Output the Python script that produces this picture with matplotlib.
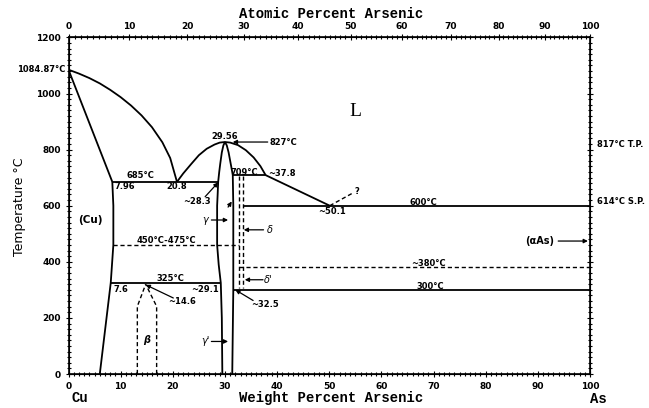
import numpy as np
import matplotlib
matplotlib.use("Agg")
import matplotlib.pyplot as plt
from matplotlib.ticker import FixedLocator, MultipleLocator

# ---------------- data (wt% As, temperature degC) ----------------
liq_cu_x = [0, 2, 4, 6, 8, 10, 12, 14, 16, 18, 19.5, 20.8]
liq_cu_t = [1084.87, 1071, 1055, 1036, 1013, 987, 957, 922, 880, 826, 770, 685]

dome_x = [20.8, 22, 23.5, 25, 26.5, 28, 29, 30.0, 31, 32.5, 34, 35.5, 36.8, 37.8]
dome_t = [685, 715, 748, 780, 803, 818, 825, 827, 825, 816, 798, 772, 741, 709]

liq_as_x = [37.8, 50.1]
liq_as_t = [709, 600]

solidus_cu_x = [0, 8.4]
solidus_cu_t = [1084.87, 685]

cu_solvus_x = [8.4, 8.6, 8.6, 8.1, 6.0]
cu_solvus_t = [685, 600, 460, 325, 0]

gam_left_x = [30.0, 29.7, 29.4, 29.1, 28.9, 28.7, 28.6, 28.5, 28.5, 28.8, 29.2, 29.4, 29.5]
gam_left_t = [827, 815, 790, 750, 720, 685, 640, 600, 460, 390, 325, 200, 0]

gam_right_x = [30.0, 30.35, 30.7, 31.1, 31.4, 31.5, 31.6, 31.6, 31.4]
gam_right_t = [827, 815, 790, 750, 720, 709, 600, 300, 0]

# invariant lines: (x_start, x_end, temperature)
solid_iso = [(8.4, 28.7, 685), (31.5, 37.8, 709), (33.4, 100, 600),
             (8.1, 29.2, 325), (31.6, 100, 300)]
dashed_iso = [(8.6, 32.6, 460), (32.6, 100, 380)]

delta_x = [32.6, 33.4]
delta_t = [705, 308]

beta_left_x = [13.2, 13.2, 14.8]
beta_left_t = [0, 241, 320]
beta_right_x = [16.9, 16.9, 14.8]
beta_right_t = [0, 241, 320]

unk_x = [50.1, 54.5]
unk_t = [600, 645]

x_ticks = [0, 10, 20, 30, 40, 50, 60, 70, 80, 90, 100]
y_ticks = [0, 200, 400, 600, 800, 1000, 1200]
at_ticks = [0, 10, 20, 30, 40, 50, 60, 70, 80, 90, 100]

M_CU, M_AS = 63.546, 74.92


def at_to_wt(a):
    a = np.asarray(a, dtype=float)
    return 100 * a * M_AS / (a * M_AS + (100 - a) * M_CU)


# ---------------- figure ----------------
fig = plt.figure(figsize=(6.49, 4.08), dpi=100)
ax = fig.add_axes([68.5 / 649, 34 / 408, (590 - 68.5) / 649, (374.3 - 37.7) / 408])
ax.set_xlim(0, 100)
ax.set_ylim(0, 1200)

k = dict(color="black", lw=1.3, solid_capstyle="butt", solid_joinstyle="round")
ax.plot(liq_cu_x, liq_cu_t, **k)
ax.plot(dome_x, dome_t, **k)
ax.plot(liq_as_x, liq_as_t, **k)
ax.plot(solidus_cu_x, solidus_cu_t, **k)
ax.plot(cu_solvus_x, cu_solvus_t, **k)
ax.plot(gam_left_x, gam_left_t, **k)
ax.plot(gam_right_x, gam_right_t, **k)
for x0, x1, t in solid_iso:
    ax.plot([x0, x1], [t, t], **k)
dk = dict(color="black", lw=1.0, ls=(0, (3, 2)))
for x0, x1, t in dashed_iso:
    ax.plot([x0, x1], [t, t], **dk)
for dx in delta_x:
    ax.plot([dx, dx], delta_t, **dk)
ax.plot(beta_left_x, beta_left_t, **dk)
ax.plot(beta_right_x, beta_right_t, **dk)
ax.plot(unk_x, unk_t, **dk)

# ---------------- axes styling ----------------
for s in ax.spines.values():
    s.set_linewidth(1.2)
ax.xaxis.set_major_locator(FixedLocator(x_ticks))
ax.xaxis.set_minor_locator(MultipleLocator(1))
ax.yaxis.set_major_locator(FixedLocator(y_ticks))
ax.yaxis.set_minor_locator(MultipleLocator(20))
ax.tick_params(which="both", direction="inout", right=True, top=False,
               labelsize=6.5, width=0.8)
ax.tick_params(which="major", length=5, pad=3)
ax.tick_params(which="minor", length=2.5)
for lab in ax.get_xticklabels() + ax.get_yticklabels():
    lab.set_fontweight("bold")

top = ax.twiny()
top.set_xlim(0, 100)
top.xaxis.set_major_locator(FixedLocator(at_to_wt(at_ticks)))
top.xaxis.set_minor_locator(FixedLocator(at_to_wt(np.arange(0, 101, 1))))
top.set_xticklabels([str(v) for v in at_ticks])
top.tick_params(which="both", direction="inout", labelsize=6.5, width=0.8)
top.tick_params(which="major", length=5, pad=2)
top.tick_params(which="minor", length=2.5)
for lab in top.get_xticklabels():
    lab.set_fontweight("bold")

mono = "Liberation Mono"
fig.text(331 / 649, 1 - 14 / 408, "Atomic Percent Arsenic", family=mono,
         fontsize=10, fontweight="bold", ha="center", va="center")
fig.text(331 / 649, 1 - 398 / 408, "Weight Percent Arsenic", family=mono,
         fontsize=10, fontweight="bold", ha="center", va="center")
fig.text(80 / 649, 1 - 398 / 408, "Cu", family=mono, fontsize=10,
         fontweight="bold", ha="center", va="center")
fig.text(598 / 649, 1 - 399 / 408, "As", family=mono, fontsize=10,
         fontweight="bold", ha="center", va="center")
fig.text(20 / 649, 1 - 207 / 408, "Temperature °C", fontsize=9,
         rotation=90, ha="center", va="center")

# ---------------- annotations ----------------
fs = 6
tb = dict(fontsize=fs, fontweight="bold", color="black")
ax.text(-0.6, 1084.87, "1084.87°C", ha="right", va="center", clip_on=False, **tb)
ax.text(101.3, 817, "817°C T.P.", ha="left", va="center", clip_on=False, **tb)
ax.text(101.3, 614, "614°C S.P.", ha="left", va="center", clip_on=False, **tb)

ax.text(55, 935, "L", family="Liberation Serif", fontsize=14, ha="center", va="center")
ax.text(30.0, 832, "29.56", ha="center", va="bottom", **tb)
ax.text(38.6, 825, "827°C", ha="left", va="center", **tb)
ax.text(13.7, 690, "685°C", ha="center", va="bottom", **tb)
ax.text(8.9, 668, "7.96", ha="left", va="center", **tb)
ax.text(20.7, 668, "20.8", ha="center", va="center", **tb)
ax.text(24.6, 615, "~28.3", ha="center", va="center", **tb)
ax.text(33.8, 719, "709°C", ha="center", va="center", **tb)
ax.text(38.3, 716, "~37.8", ha="left", va="center", **tb)
ax.text(50.5, 578, "~50.1", ha="center", va="center", **tb)
ax.text(55.3, 650, "?", ha="center", va="center", **tb)
ax.text(68.0, 612, "600°C", ha="center", va="center", **tb)
ax.text(4.1, 549, "(Cu)", ha="center", va="center", fontsize=7.5, fontweight="bold")
ax.text(26.2, 549, "γ", ha="center", va="center", fontsize=7, style="italic")
ax.text(38.6, 514, "δ", ha="center", va="center", fontsize=7, style="italic")
ax.text(38.2, 336, "δ'", ha="center", va="center", fontsize=7, style="italic")
ax.text(26.2, 116, "γ'", ha="center", va="center", fontsize=7, style="italic")
ax.text(15.0, 122, "β", ha="center", va="center", fontsize=7, style="italic",
        fontweight="bold")
ax.text(18.8, 476, "450°C-475°C", ha="center", va="center", **tb)
ax.text(19.5, 340, "325°C", ha="center", va="center", **tb)
ax.text(8.6, 303, "7.6", ha="left", va="center", **tb)
ax.text(28.9, 303, "~29.1", ha="right", va="center", **tb)
ax.text(21.7, 259, "~14.6", ha="center", va="center", **tb)
ax.text(37.7, 247, "~32.5", ha="center", va="center", **tb)
ax.text(69.0, 395, "~380°C", ha="center", va="center", **tb)
ax.text(69.3, 312, "300°C", ha="center", va="center", **tb)
ax.text(90.4, 474, "(αAs)", ha="center", va="center", fontsize=7, fontweight="bold")

ap = dict(arrowstyle="-|>", color="black", lw=0.9, mutation_scale=6,
          shrinkA=0, shrinkB=0)
arrows = [((38.2, 827), (31.5, 827)),
          ((26.2, 632), (28.7, 683)),
          ((27.4, 549), (30.6, 549)),
          ((30.6, 595), (31.3, 615)),
          ((37.4, 514), (33.6, 514)),
          ((37.3, 336), (33.8, 336)),
          ((20.1, 271), (14.8, 318)),
          ((35.4, 262), (32.0, 300)),
          ((27.4, 116), (30.6, 116)),
          ((93.9, 474), (99.6, 474))]
for (x0, y0), (x1, y1) in arrows:
    ax.annotate("", xy=(x1, y1), xytext=(x0, y0), arrowprops=ap)

fig.savefig("out.png", dpi=100)
